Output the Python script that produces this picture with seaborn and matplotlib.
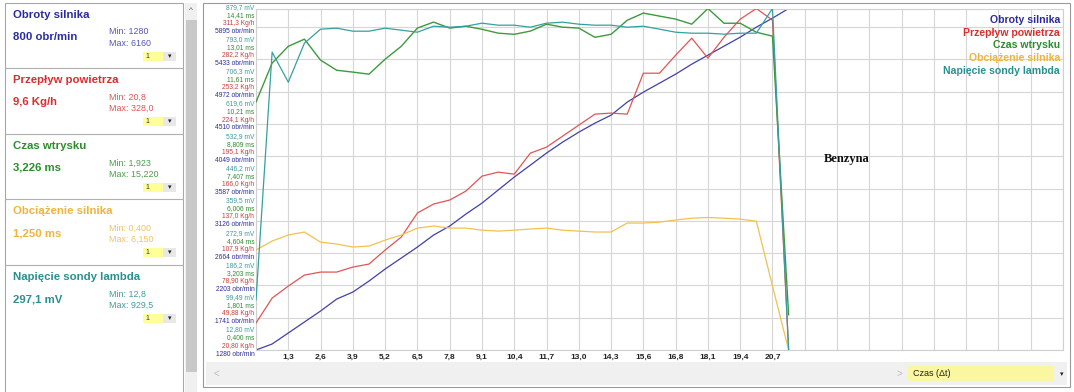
import numpy as np
import pandas as pd
import matplotlib
matplotlib.use('Agg')
import matplotlib.pyplot as plt
import matplotlib.patches as mpatches
import matplotlib.transforms as mtransforms
import seaborn as sns

# --- data (one sample every ~0,65 s) ---
rpm = [1280, 1366, 1523, 1680, 1837, 2008, 2108, 2265, 2437, 2594, 2751, 2922,
       3051, 3222, 3379, 3565, 3751, 3922, 4094, 4251, 4393, 4522, 4636, 4822,
       4965, 5093, 5222, 5365, 5493, 5622, 5750, 5893, 6022, 6160]
air_flow = [45.1, 67.5, 78.3, 88.2, 90.9, 90.9, 95.4, 98.1, 110.7, 122.4, 144.0, 152.1,
            155.7, 163.7, 177.2, 180.8, 179.0, 197.9, 203.3, 213.2, 223.1, 233.0, 233.9, 233.0,
            269.8, 269.8, 286.0, 301.3, 283.3, 302.2, 318.4, 328.0, 317.5, 20.8]
injection = [11.16, 12.85, 13.58, 13.89, 12.98, 12.54, 12.46, 12.37, 13.02, 13.58, 14.37, 14.63,
             14.37, 14.45, 14.32, 14.15, 14.10, 14.24, 14.54, 14.41, 14.37, 13.97, 14.10, 14.71,
             15.02, 14.89, 14.76, 14.54, 15.22, 14.58, 14.58, 14.19, 14.02, 1.923]
load = [4.74, 5.13, 5.39, 5.52, 5.08, 5.00, 4.87, 4.91, 5.17, 5.39, 5.69, 5.78,
        5.69, 5.69, 5.60, 5.56, 5.60, 5.65, 5.69, 5.60, 5.56, 5.52, 5.52, 5.91,
        5.91, 5.95, 6.04, 6.12, 6.15, 6.12, 6.08, 5.99, 3.18, 0.400]
lambda_mv = [146.9, 812.3, 731.8, 836.4, 874.0, 876.7, 868.6, 868.6, 876.7, 871.3, 865.9, 882.0,
             879.3, 882.0, 890.1, 884.7, 884.7, 879.3, 890.1, 892.8, 887.4, 884.7, 884.7, 879.3,
             882.0, 874.0, 865.9, 863.2, 863.2, 860.6, 863.2, 863.2, 929.5, 12.8]

x_labels = ['1,3', '2,6', '3,9', '5,2', '6,5', '7,8', '9,1', '10,4', '11,7', '13,0',
            '14,3', '15,6', '16,8', '18,1', '19,4', '20,7']

rpm_ticks = [1280, 1741, 2203, 2664, 3126, 3587, 4049, 4510, 4972, 5433, 5895]
flow_ticks = [20.80, 49.88, 78.90, 107.9, 137.0, 166.0, 195.1, 224.1, 253.2, 282.2, 311.3]
ms_ticks = [0.400, 1.801, 3.203, 4.604, 6.006, 7.407, 8.809, 10.21, 11.61, 13.01, 14.41]
mv_ticks = [12.80, 99.49, 186.2, 272.9, 359.5, 446.2, 532.9, 619.6, 706.3, 793.0, 879.7]

sensor_names = ['Obroty silnika', 'Przepływ powietrza', 'Czas wtrysku',
                'Obciążenie silnika', 'Napięcie sondy lambda']
current_values = ['800 obr/min', '9,6 Kg/h', '3,226 ms', '1,250 ms', '297,1 mV']
min_labels = ['1280', '20,8', '1,923', '0,400', '12,8']
max_labels = ['6160', '328,0', '15,220', '6,150', '929,5']

title_colors = ['#2b2ba0', '#dd2c2c', '#2e8b2e', '#f0b43c', '#2b8f8f']
minmax_colors = ['#5555bb', '#e05555', '#4a9d4a', '#f2c266', '#3d9d9d']
line_colors = ['#4040aa', '#e05555', '#3d9a3d', '#f3c14f', '#35a0a0']

sns.set_style('white')
plt.rcParams['font.family'] = ['Liberation Sans', 'DejaVu Sans']

W, H = 1074, 392
fig = plt.figure(figsize=(W / 100, H / 100), dpi=100)


def fx(x):
    return x / W


def fy(y):
    return 1 - y / H


def box(x0, y0, x1, y1, **kw):
    r = mpatches.Rectangle((fx(x0), fy(y1)), fx(x1) - fx(x0), fy(y0) - fy(y1),
                           transform=fig.transFigure, zorder=-5, **kw)
    fig.add_artist(r)


# --- left panel with sensor cards ---
box(5, 3, 183, 396, facecolor='white', edgecolor='#a8a8a8', lw=0.8)
box(185, 3, 197, 392, facecolor='#f0f0f0', edgecolor='none')
box(186, 20, 197, 372, facecolor='#c8c8c8', edgecolor='none')
fig.text(fx(191), fy(10), '^', fontsize=6, color='#555555', ha='center', va='center')

card_tops = [3, 68, 134, 199, 265]
for i, top in enumerate(card_tops):
    if i > 0:
        fig.add_artist(plt.Line2D([fx(5), fx(183)], [fy(top), fy(top)],
                                  transform=fig.transFigure, color='#b0b0b0', lw=0.8))
    fig.text(fx(13), fy(top + 12), sensor_names[i], fontsize=8.2, fontweight='bold',
             color=title_colors[i], va='center')
    fig.text(fx(13), fy(top + 34), current_values[i], fontsize=8.2, fontweight='bold',
             color=title_colors[i], va='center')
    fig.text(fx(109), fy(top + 29), 'Min: ' + min_labels[i], fontsize=6.4,
             color=minmax_colors[i], va='center')
    fig.text(fx(109), fy(top + 40), 'Max: ' + max_labels[i], fontsize=6.4,
             color=minmax_colors[i], va='center')
    box(143, top + 49, 163, top + 58, facecolor='#ffff99', edgecolor='none')
    box(163, top + 49, 176, top + 58, facecolor='#e8e8e8', edgecolor='none')
    fig.text(fx(145), fy(top + 53.5), '1', fontsize=5, color='#333333', va='center')
    fig.text(fx(169.5), fy(top + 53.5), '▾', fontsize=5, color='#222222',
             ha='center', va='center', family='DejaVu Sans')

# --- main chart panel ---
box(203, 3, 1070, 387, facecolor='white', edgecolor='#9a9a9a', lw=0.8)
box(206, 362, 1067, 385, facecolor='#f0f0f0', edgecolor='none')
fig.text(fx(216), fy(374), '<', fontsize=7, color='#bbbbbb', ha='center', va='center')
fig.text(fx(899), fy(374), '>', fontsize=7, color='#bbbbbb', ha='center', va='center')
box(908, 366, 1054, 381, facecolor='#fbf6a0', edgecolor='none')
fig.text(fx(913), fy(373.5), 'Czas (Δt)', fontsize=6.5, color='#222222', va='center')
fig.text(fx(1062), fy(374), '▾', fontsize=5, color='#222222', ha='center', va='center',
         family='DejaVu Sans')

ax = fig.add_axes([fx(256), fy(350), fx(1063) - fx(256), fy(8.5) - fy(350)])
ax.set_facecolor('none')
sample = np.arange(len(rpm))

ax_flow = ax.twinx()
ax_ms = ax.twinx()
ax_mv = ax.twinx()

sns.lineplot(x=sample, y=rpm, ax=ax, color=line_colors[0], lw=0.9, legend=False)
sns.lineplot(x=sample, y=air_flow, ax=ax_flow, color=line_colors[1], lw=0.9, legend=False)
sns.lineplot(x=sample, y=load, ax=ax_ms, color=line_colors[3], lw=0.9, legend=False)
sns.lineplot(x=sample, y=injection, ax=ax_ms, color=line_colors[2], lw=1.0, legend=False)
sns.lineplot(x=sample, y=lambda_mv, ax=ax_mv, color=line_colors[4], lw=0.9, legend=False)

ax.set_xlim(0, 50)
ax.set_xticks(range(0, 51, 2))
ax.set_xticklabels([''] + x_labels + [''] * 9)
ax.tick_params(axis='x', length=0, pad=2.5, labelsize=6, labelcolor='#222222')
for lbl in ax.get_xticklabels():
    lbl.set_fontweight('bold')
ax.grid(True, color='#d6d6d6', lw=0.8)
for sp in ax.spines.values():
    sp.set_color('#d0d0d0')
    sp.set_linewidth(0.8)

axis_setup = [
    (ax, 1280, 6160, rpm_ticks, '{:.0f} obr/min', '#2a2a9a', -3),
    (ax_flow, 20.8, 328.0, flow_ticks, '{} Kg/h', '#cc3b3b', 5),
    (ax_ms, 0.400, 15.220, ms_ticks, '{} ms', '#2e8a2e', 13),
    (ax_mv, 12.8, 929.5, mv_ticks, '{} mV', '#3a9a9a', 21),
]


def four_digits(v):
    if v >= 100:
        s = f'{v:.1f}'
    elif v >= 10:
        s = f'{v:.2f}'
    else:
        s = f'{v:.3f}'
    return s.replace('.', ',')


for a, lo, hi, ticks, fmt, col, dy in axis_setup:
    a.set_ylim(lo, hi)
    a.yaxis.tick_left()
    a.set_yticks(ticks)
    if a is ax:
        labels = [fmt.format(t) for t in ticks]
    else:
        labels = [fmt.format(four_digits(t)) for t in ticks]
    a.set_yticklabels(labels)
    a.tick_params(axis='y', length=0, pad=1.2, labelsize=4.8, labelcolor=col)
    a.set_ylabel('')
    for lbl in a.get_yticklabels():
        lbl.set_transform(lbl.get_transform() +
                          mtransforms.ScaledTranslation(0, dy / 100, fig.dpi_scale_trans))
    if a is not ax:
        for sp in a.spines.values():
            sp.set_visible(False)
        a.grid(False)

# legend (coloured names, top right)
legend_y = [20, 33, 45, 58, 71]
for name, col, yy in zip(sensor_names, title_colors, legend_y):
    fig.text(fx(1060), fy(yy), name, fontsize=7.6, fontweight='bold', color=col,
             ha='right', va='center')

fig.text(fx(824), fy(159), 'Benzyna', fontsize=9, fontweight='bold', color='#111111',
         va='center', family=['Liberation Serif', 'DejaVu Serif'])

fig.savefig('out.png', dpi=100)
